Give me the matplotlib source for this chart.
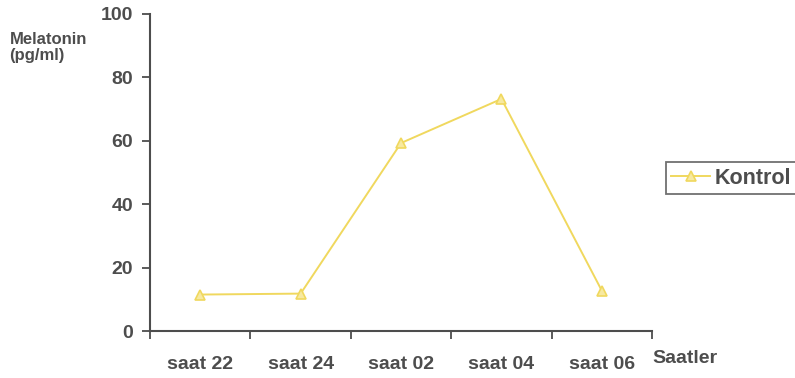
import numpy as np
import matplotlib.pyplot as plt

plt.rcParams['font.family'] = ['Liberation Sans', 'DejaVu Sans']

hours = ['saat 22', 'saat 24', 'saat 02', 'saat 04', 'saat 06']
kontrol = [11.5, 11.8, 59.3, 73.2, 12.7]

ink = '#4d4d4d'
yellow = '#f0d85e'
fs = 14

fig = plt.figure(figsize=(7.95, 3.78), dpi=100)
ax = fig.add_axes([0.1887, 0.1243, 0.6315, 0.8387])

x = np.arange(len(hours)) + 0.5
ax.plot(x, kontrol, color=yellow, lw=1.4, marker='^', ms=7,
        mfc='#f7e9a0', mec=yellow, mew=1.2, label='Kontrol')

ax.set_xlim(0, len(hours))
ax.set_ylim(0, 100)
ax.set_yticks(np.arange(0, 101, 20))
ax.set_xticks(x)
ax.set_xticklabels(hours)
ax.set_xticks(np.arange(len(hours) + 1), minor=True)
ax.tick_params(axis='x', which='major', length=0, pad=18)
ax.tick_params(axis='x', which='minor', length=6, width=1.3, color=ink, direction='out')
ax.tick_params(axis='y', length=6, width=1.3, color=ink, pad=6)
for lab in ax.get_xticklabels() + ax.get_yticklabels():
    lab.set_fontsize(fs)
    lab.set_fontweight('bold')
    lab.set_color(ink)

for side in ['top', 'right']:
    ax.spines[side].set_visible(False)
for side in ['left', 'bottom']:
    ax.spines[side].set_color(ink)
    ax.spines[side].set_linewidth(1.5)

fig.text(0.012, 0.915, 'Melatonin\n(pg/ml)', fontsize=12, fontweight='bold',
         color=ink, va='top', linespacing=1.1)
fig.text(0.821, 0.04, 'Saatler', fontsize=fs, fontweight='bold', color=ink)

leg = ax.legend(loc='center left', bbox_to_anchor=(1.028, 0.482), frameon=True,
                fancybox=False, handlelength=1.8, borderpad=0.25, handletextpad=0.2,
                borderaxespad=0, prop={'size': 15.5, 'weight': 'bold'})
leg.get_frame().set_edgecolor(ink)
leg.get_frame().set_linewidth(1.3)
for t in leg.get_texts():
    t.set_color(ink)

fig.savefig('out.png', dpi=100)
